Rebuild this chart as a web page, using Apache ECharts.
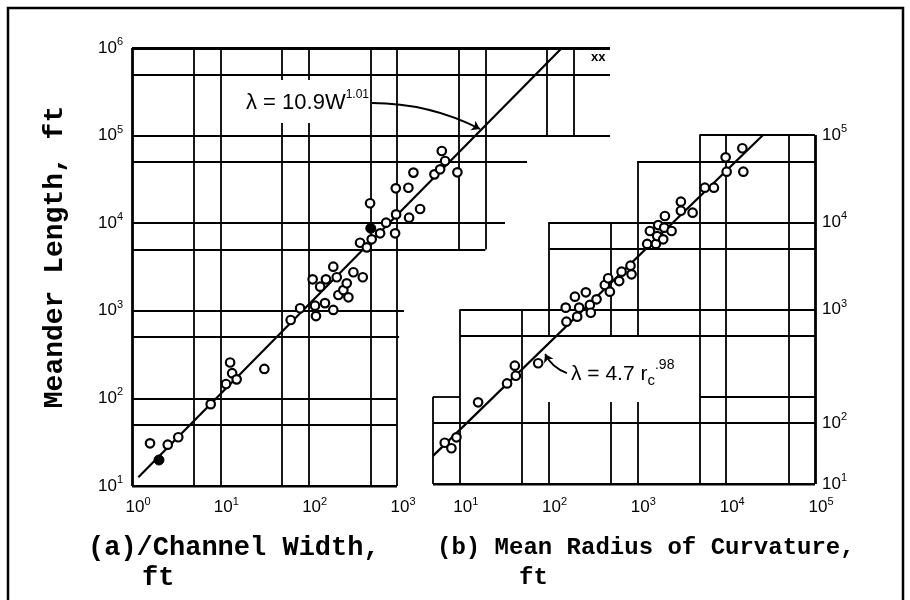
<!DOCTYPE html>
<html>
<head>
<meta charset="utf-8">
<script src="https://cdn.jsdelivr.net/npm/echarts@6/dist/echarts.min.js"></script>
<style>html,body{margin:0;padding:0;background:#fff}#c{width:910px;height:600px}</style>
</head>
<body>
<div id="c"></div>
<script>
// ---------- Panel (a): channel width W (ft) vs meander length (ft) ----------
const widthOpenW = [1.6, 2.54, 3.34, 7.78, 11.6, 12.9, 13.6, 15.3, 31.5, 62.6, 80, 111, 118, 121, 135, 153, 157, 190, 190, 208, 217, 247, 270, 282, 321, 410, 382, 455, 517, 644, 753, 952, 977, 969, 1346, 1371, 1827, 1535, 2655, 3080, 3215, 3505, 4830, 496];
const lengthOpenA = [30.7, 29.6, 36, 86, 146, 257, 194, 165, 217, 785, 1070, 2290, 1143, 871, 1885, 1224, 2290, 1023, 3190, 2415, 1514, 1726, 2060, 1426, 2755, 2415, 5980, 5300, 6550, 7670, 10140, 7670, 12600, 25000, 25400, 11560, 14520, 37800, 36100, 41200, 66700, 51300, 38100, 16900];
const widthFilledW = [2.02, 505];
const lengthFilledA = [19.8, 8750];
const fitAx = [1.18, 73500];
const fitAy = [12.6, 1000000];

// ---------- Panel (b): mean radius of curvature rc (ft) vs meander length ----------
const radiusRc = [6.78, 8.06, 9.18, 16.1, 34.1, 41.7, 42.8, 76.4, 156, 159, 198, 210, 221, 263, 292, 299, 347, 430, 469, 490, 624, 664, 837, 860, 1290, 1384, 1616, 1671, 1716, 1954, 2006, 2042, 2428, 3090, 3090, 4190, 5750, 7270, 9860, 10120, 15200, 15600];
const lengthB = [29.7, 25.7, 34.3, 86.3, 142, 227, 174, 242, 1050, 725, 1403, 828, 1050, 1574, 1127, 918, 1309, 1910, 2280, 1600, 2120, 2710, 3180, 2530, 5640, 7940, 5640, 6950, 9290, 6380, 8670, 11800, 7940, 17200, 13550, 12880, 24900, 24900, 55500, 38000, 70500, 38000];
const fitBx = [5, 26000];
const fitBy = [21, 100000];

// tick labels
const rightYTickValues = [100000, 10000, 1000, 50, 10];
const rightYTickExps = ['5', '4', '3', '2', '1'];

// ---------- printed grid rulings (value coordinates) ----------
// vertical: [x, yFrom, yTo]; horizontal: [y, xFrom, xTo]
const gridA_V = [[5,10,1e6],[10,10,1e6],[50,10,1.39e5],[50,4.31e5,1e6],[100,10,1.39e5],[100,4.31e5,1e6],[500,10,1e6],[1000,10,1e6],[5000,5000,1e6],[10000,5000,1e6],[50000,1e5,1e6],[100000,1e5,1e6]];
const gridA_H = [[5e5,1,258000],[1e5,1,258000],[5e4,1,29700],[1e4,1,16700],[5000,1,10000],[1000,1,1200],[500,1,1057],[100,1,1000],[50,1,1000]];
const gridA_axisV = [[1,10,1e6]];
const gridA_axisH = [[1e6,1,258000],[10,1,1000]];
const gridB_V = [[5,10,100],[10,10,1000],[50,10,1000],[100,10,87],[100,500,1e4],[500,10,87],[500,500,1e4],[1000,10,87],[1000,500,5e4],[5000,10,1e5],[10000,10,1e5],[50000,10,1e5]];
const gridB_H = [[1e5,5000,1e5],[5e4,1000,1e5],[1e4,100,1e5],[5000,100,1e5],[1000,10,1e5],[500,10,1e5],[100,5,10],[100,5000,1e5],[50,5,1e5]];
const gridB_axisV = [[1e5,10,1e5]];
const gridB_axisH = [[10,5,1e5]];

const vSeg = a => a.map(([x, y0, y1]) => ({coords: [[x, y0], [x, y1]]}));
const hSeg = a => a.map(([y, x0, x1]) => ({coords: [[x0, y], [x1, y]]}));
const pairs = (xs, ys) => xs.map((x, i) => [x, ys[i]]);

const tickFont = 'Liberation Sans';
const monoFont = 'Liberation Mono';
const supRich = {
  b: {fontSize: 17, fontFamily: tickFont, color: '#000'},
  s: {fontSize: 11, fontFamily: tickFont, color: '#000', padding: [0, 0, 12, 0]}
};
function decLabel(v) {
  const e = Math.log10(v), r = Math.round(e);
  if (Math.abs(e - r) > 0.01) return '';
  return '{b|10}{s|' + r + '}';
}

const chart = echarts.init(document.getElementById('c'));

function linesSeries(xi, data, width, z) {
  return {type: 'lines', coordinateSystem: 'cartesian2d', xAxisIndex: xi, yAxisIndex: xi, polyline: false,
    silent: true, z: z, symbol: 'none', lineStyle: {color: '#000', width: width, opacity: 1, curveness: 0}, data: data};
}

const option = {
  backgroundColor: '#fff',
  animation: false,
  grid: [
    {left: 132, top: 48, width: 478, height: 438},
    {left: 433, top: 135, width: 382, height: 349}
  ],
  xAxis: [
    {type: 'log', logBase: 10, gridIndex: 0, min: 1, max: 258000,
      axisLine: {show: false}, axisTick: {show: false}, splitLine: {show: false},
      axisLabel: {margin: 10, padding: [0, 0, 0, 12], formatter: v => (v <= 1001 ? decLabel(v) : ''), rich: supRich}},
    {type: 'log', logBase: 10, gridIndex: 1, min: 5, max: 100000,
      axisLine: {show: false}, axisTick: {show: false}, splitLine: {show: false},
      axisLabel: {margin: 12, padding: [0, 0, 0, 12], formatter: v => decLabel(v), rich: supRich}}
  ],
  yAxis: [
    {type: 'log', logBase: 10, gridIndex: 0, min: 10, max: 1000000,
      axisLine: {show: false}, axisTick: {show: false}, splitLine: {show: false},
      axisLabel: {margin: 9, formatter: v => decLabel(v), rich: supRich}},
    {type: 'log', logBase: 10, gridIndex: 1, min: 10, max: 100000, position: 'right',
      axisLine: {show: false}, axisTick: {show: false}, splitLine: {show: false},
      axisLabel: {show: false}}
  ],
  series: [
    linesSeries(0, vSeg(gridA_V).concat(hSeg(gridA_H)), 1.8, 1),
    linesSeries(0, vSeg(gridA_axisV).concat(hSeg(gridA_axisH)), 2.8, 1),
    linesSeries(1, vSeg(gridB_V).concat(hSeg(gridB_H)), 1.8, 1),
    linesSeries(1, vSeg(gridB_axisV).concat(hSeg(gridB_axisH)), 2.8, 1),
    {type: 'line', xAxisIndex: 0, yAxisIndex: 0, data: pairs(fitAx, fitAy), showSymbol: false, symbol: 'none',
      lineStyle: {color: '#000', width: 2.2}, z: 2, silent: true},
    {type: 'line', xAxisIndex: 1, yAxisIndex: 1, data: pairs(fitBx, fitBy), showSymbol: false, symbol: 'none',
      lineStyle: {color: '#000', width: 2.2}, z: 2, silent: true},
    {type: 'lines', coordinateSystem: 'cartesian2d', xAxisIndex: 0, yAxisIndex: 0, silent: true, z: 2,
      symbol: ['none', 'arrow'], symbolSize: 8,
      lineStyle: {color: '#000', width: 1.8, opacity: 1, curveness: 0.12},
      data: [{coords: [[521, 235500], [8710, 118900]]}]},
    {type: 'lines', coordinateSystem: 'cartesian2d', xAxisIndex: 1, yAxisIndex: 1, silent: true, z: 2,
      symbol: ['none', 'arrow'], symbolSize: 8,
      lineStyle: {color: '#000', width: 1.8, opacity: 1, curveness: 0.2},
      data: [{coords: [[161, 187], [91.4, 309]]}]},
    {type: 'scatter', xAxisIndex: 0, yAxisIndex: 0, data: pairs(widthOpenW, lengthOpenA), symbol: 'circle', symbolSize: 8.5,
      itemStyle: {color: '#fff', borderColor: '#000', borderWidth: 2.2, opacity: 1}, z: 3, silent: true},
    {type: 'scatter', xAxisIndex: 0, yAxisIndex: 0, data: pairs(widthFilledW, lengthFilledA), symbol: 'circle', symbolSize: 10,
      itemStyle: {color: '#000', borderColor: '#000', borderWidth: 1, opacity: 1}, z: 3, silent: true},
    {type: 'scatter', xAxisIndex: 1, yAxisIndex: 1, data: pairs(radiusRc, lengthB), symbol: 'circle', symbolSize: 8.5,
      itemStyle: {color: '#fff', borderColor: '#000', borderWidth: 2.2, opacity: 1}, z: 3, silent: true}
  ]
};
chart.setOption(option);

// text elements
const elems = [];
elems.push({type: 'rect', shape: {x: 8, y: 8, width: 895, height: 700}, style: {fill: 'none', stroke: '#000', lineWidth: 2.5}, silent: true, z: 10});
rightYTickValues.forEach((v, i) => {
  const p = chart.convertToPixel({gridIndex: 1}, [100000, v]);
  elems.push({type: 'text', x: 822, y: p[1], z: 10, silent: true,
    style: {text: '{b|10}{s|' + rightYTickExps[i] + '}', rich: supRich, align: 'left', verticalAlign: 'middle'}});
});
elems.push({type: 'text', x: 246, y: 103, z: 10, silent: true,
  style: {text: '{m|λ = 10.9W}{s|1.01}', align: 'left', verticalAlign: 'middle',
    rich: {m: {fontSize: 22, fontFamily: tickFont, color: '#000'}, s: {fontSize: 12, fontFamily: tickFont, color: '#000', padding: [0, 0, 16, 0]}}}});
elems.push({type: 'text', x: 571, y: 374, z: 10, silent: true,
  style: {text: '{m|λ = 4.7 r}{c|c}{s|.98}', align: 'left', verticalAlign: 'middle',
    rich: {m: {fontSize: 21, fontFamily: tickFont, color: '#000'},
      c: {fontSize: 15, fontFamily: tickFont, color: '#000', padding: [14, 0, 0, 0]},
      s: {fontSize: 14, fontFamily: tickFont, color: '#000', padding: [0, 0, 18, 0]}}}});
elems.push({type: 'text', x: 591, y: 57, z: 10, silent: true,
  style: {text: 'xx', font: 'bold 13px ' + tickFont, fill: '#000', align: 'left', verticalAlign: 'middle'}});
elems.push({type: 'text', x: 55, y: 257, rotation: Math.PI / 2, z: 10, silent: true,
  style: {text: 'Meander Length, ft', font: 'bold 28px "' + monoFont + '"', fill: '#000', align: 'center', verticalAlign: 'middle'}});
elems.push({type: 'text', x: 88, y: 548, z: 10, silent: true,
  style: {text: '(a)/Channel Width,', font: 'bold 27px "' + monoFont + '"', fill: '#000', align: 'left', verticalAlign: 'middle'}});
elems.push({type: 'text', x: 142, y: 578, z: 10, silent: true,
  style: {text: 'ft', font: 'bold 27px "' + monoFont + '"', fill: '#000', align: 'left', verticalAlign: 'middle'}});
elems.push({type: 'text', x: 437, y: 548, z: 10, silent: true,
  style: {text: '(b) Mean Radius of Curvature,', font: 'bold 24px "' + monoFont + '"', fill: '#000', align: 'left', verticalAlign: 'middle'}});
elems.push({type: 'text', x: 519, y: 578, z: 10, silent: true,
  style: {text: 'ft', font: 'bold 24px "' + monoFont + '"', fill: '#000', align: 'left', verticalAlign: 'middle'}});
chart.setOption({graphic: {elements: elems}});
</script>
</body>
</html>
